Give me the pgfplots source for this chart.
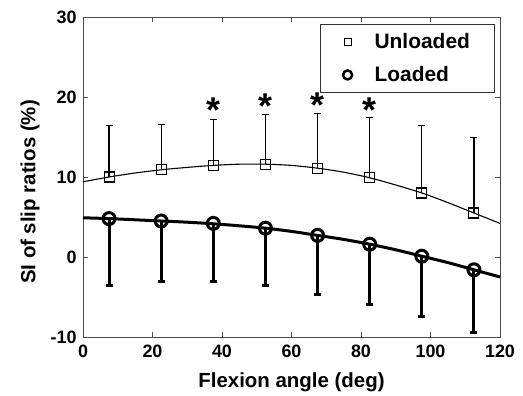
\documentclass[border=0pt]{standalone}
\usepackage{pgfplots}
\pgfplotsset{compat=1.18}
\usepackage{fontspec}
\setmainfont{Liberation Sans}
\begin{document}
\begin{tikzpicture}
\begin{axis}[
  scale only axis, width=417bp, height=320bp,
  xmin=0, xmax=120, ymin=-10, ymax=30,
  xtick={0,20,...,120}, ytick={-10,0,...,30},
  tick align=inside, major tick length=5bp,
  axis line style={line width=0.9bp, black!70},
  tick style={line width=0.9bp, black!70},
  /pgf/number format/assume math mode=true,
  ticklabel style={font=\fontsize{18}{18}\selectfont\bfseries},
  xticklabel style={yshift=-4bp},
  yticklabel style={xshift=-3bp},
  xlabel={Flexion angle (deg)},
  ylabel={SI of slip ratios (\%)},
  label style={font=\fontsize{20.5}{20.5}\selectfont\bfseries},
  xlabel style={yshift=-9bp},
  ylabel style={at={(ticklabel cs:0.453)}, yshift=4bp},
  legend style={at={(rel axis cs:0.988,0.978)}, anchor=north east,
    draw=black!80, line width=0.8bp, font=\fontsize{21}{21}\selectfont\bfseries,
    inner xsep=0pt, inner ysep=1bp, row sep=0pt, column sep=0pt,
    nodes={inner sep=0pt}},
  legend image code/.code={%
    \path[draw=none, fill=none] (-27bp,-16.5bp) rectangle (27bp,16.5bp);
    \draw[#1] plot coordinates {(0bp,0bp)};},
  legend cell align=left,
  clip=false,
]
% fitted curves
\addplot[forget plot, black, line width=1.1bp, smooth] coordinates {
 (0,9.4) (7.5,10.0) (15,10.5) (22.5,10.9) (30,11.2) (37.5,11.45) (45,11.6)
 (52.5,11.6) (60,11.45) (67.5,11.1) (75,10.6) (82.5,9.9) (90,9.0) (97.5,8.0)
 (105,6.8) (112.5,5.5) (120,4.2)};
\addplot[forget plot, black, line width=3bp, smooth] coordinates {
 (0,4.9) (7.5,4.8) (15,4.65) (22.5,4.5) (30,4.35) (37.5,4.15) (45,3.9)
 (52.5,3.6) (60,3.2) (67.5,2.7) (75,2.2) (82.5,1.6) (90,0.9) (97.5,0.1)
 (105,-0.7) (112.5,-1.6) (120,-2.5)};
% Unloaded
\addplot[forget plot, black, only marks, mark=square, mark size=5bp, line width=1.1bp,
  error bars/.cd, y dir=plus, y explicit,
  error mark options={rotate=90, mark size=3.5bp, line width=1.2bp},
  error bar style={line width=1.2bp}]
 coordinates {
 (7.5,10.0) +- (0,6.4)
 (22.5,10.9) +- (0,5.7)
 (37.5,11.4) +- (0,5.8)
 (52.5,11.6) +- (0,6.2)
 (67.5,11.1) +- (0,6.8)
 (82.5,9.9) +- (0,7.5)
 (97.5,8.0) +- (0,8.4)
 (112.5,5.5) +- (0,9.4)};
% Loaded
\addplot[forget plot, black, only marks, mark=o, mark size=6bp, line width=3bp,
  error bars/.cd, y dir=minus, y explicit,
  error mark options={rotate=90, mark size=3.5bp, line width=3bp},
  error bar style={line width=3bp}]
 coordinates {
 (7.5,4.8) +- (0,8.4)
 (22.5,4.5) +- (0,7.6)
 (37.5,4.2) +- (0,7.3)
 (52.5,3.6) +- (0,7.2)
 (67.5,2.7) +- (0,7.4)
 (82.5,1.6) +- (0,7.6)
 (97.5,0.1) +- (0,7.6)
 (112.5,-1.6) +- (0,7.8)};
% significance asterisks
\addplot[forget plot, draw=none, mark=none,
  nodes near coords={*},
  every node near coord/.style={anchor=center, inner sep=0pt,
    font=\fontsize{36}{36}\selectfont\bfseries, yshift=-5bp}]
 coordinates {(37.5,19.0) (52.5,19.5) (67.5,19.6) (82.5,19.0)};
\addlegendimage{black, only marks, mark=square, mark size=3.5bp, line width=1bp}
\addlegendentry{\makebox[120bp][l]{Unloaded}}
\addlegendimage{black, only marks, mark=o, mark size=4.5bp, line width=2.5bp}
\addlegendentry{\makebox[120bp][l]{Loaded}}
\end{axis}
\path (current axis.south west) +(-83bp,-58bp) rectangle ([shift={(23bp,17bp)}]current axis.north east);
\end{tikzpicture}
\end{document}
